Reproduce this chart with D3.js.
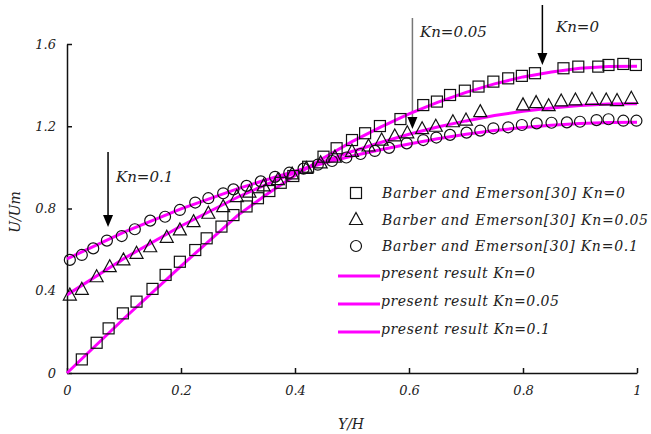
<!DOCTYPE html>
<html>
<head>
<meta charset="utf-8">
<script src="https://cdn.jsdelivr.net/npm/d3@7"></script>
<style>
  body { margin: 0; background: #fff; }
  text { font-family: "DejaVu Serif", serif; font-style: italic; fill: #222; }
</style>
</head>
<body>
<div id="chart"></div>
<script>
// Barber and Emerson[30] data as [Y/H, U/Um]
var barber_kn0 = [[0.026,0.066],[0.052,0.147],[0.073,0.217],[0.098,0.29],[0.122,0.347],[0.15,0.409],
    [0.173,0.477],[0.198,0.541],[0.225,0.598],[0.245,0.655],[0.271,0.712],[0.292,0.768],[0.315,0.81],
    [0.335,0.85],[0.355,0.885],[0.375,0.925],[0.397,0.958],[0.423,1.003],[0.45,1.052],[0.473,1.093],
    [0.5,1.133],[0.523,1.166],[0.549,1.201],[0.585,1.235],[0.625,1.303],[0.649,1.32],[0.672,1.352],
    [0.698,1.373],[0.722,1.393],[0.748,1.417],[0.774,1.433],[0.798,1.445],[0.821,1.458],[0.871,1.482],
    [0.897,1.49],[0.932,1.49],[0.95,1.498],[0.976,1.503],[0.998,1.498]];
var barber_kn005 = [[0.005,0.379],[0.026,0.407],[0.052,0.468],[0.075,0.517],[0.099,0.55],[0.122,0.582],
    [0.146,0.614],[0.175,0.66],[0.198,0.696],[0.222,0.736],[0.248,0.777],[0.274,0.809],[0.298,0.858],
    [0.32,0.88],[0.345,0.91],[0.37,0.94],[0.395,0.968],[0.42,0.995],[0.445,1.022],[0.47,1.05],
    [0.5,1.078],[0.529,1.104],[0.552,1.133],[0.575,1.153],[0.597,1.168],[0.623,1.188],[0.647,1.2],
    [0.677,1.222],[0.7,1.23],[0.725,1.271],[0.8,1.304],[0.823,1.315],[0.845,1.3],[0.867,1.323],
    [0.892,1.328],[0.921,1.331],[0.946,1.328],[0.965,1.325],[0.99,1.336]];
var barber_kn01 = [[0.005,0.55],[0.026,0.574],[0.046,0.606],[0.07,0.644],[0.096,0.666],[0.119,0.699],
    [0.146,0.741],[0.172,0.76],[0.198,0.793],[0.225,0.829],[0.248,0.85],[0.274,0.874],[0.292,0.893],
    [0.315,0.91],[0.34,0.932],[0.365,0.954],[0.39,0.974],[0.415,0.994],[0.44,1.013],[0.465,1.031],
    [0.49,1.048],[0.515,1.065],[0.54,1.08],[0.565,1.095],[0.596,1.117],[0.625,1.133],[0.648,1.145],
    [0.672,1.158],[0.701,1.169],[0.725,1.179],[0.748,1.19],[0.774,1.195],[0.798,1.206],[0.824,1.214],
    [0.85,1.217],[0.877,1.219],[0.9,1.222],[0.929,1.23],[0.95,1.234],[0.976,1.227],[0.999,1.227]];

// present result curves
var present_x = [0, 0.1, 0.2, 0.3, 0.35, 0.4, 0.45, 0.5, 0.55, 0.6, 0.65, 0.7, 0.75, 0.8, 0.85, 0.9, 0.95, 1];
var present_kn0 = [0, 0.265, 0.52, 0.768, 0.868, 0.96, 1.046, 1.125, 1.196, 1.26, 1.316, 1.365, 1.406, 1.44, 1.464, 1.482, 1.49, 1.492];
var present_kn005 = [0.38, 0.557, 0.715, 0.856, 0.917, 0.975, 1.028, 1.077, 1.121, 1.161, 1.196, 1.226, 1.252, 1.273, 1.289, 1.301, 1.308, 1.31];
var present_kn01 = [0.555, 0.685, 0.798, 0.897, 0.94, 0.982, 1.02, 1.055, 1.086, 1.114, 1.139, 1.161, 1.179, 1.194, 1.205, 1.213, 1.218, 1.22];

var x_ticks = [0, 0.2, 0.4, 0.6, 0.8, 1];
var y_ticks = [0, 0.4, 0.8, 1.2, 1.6];

// arrows pointing at the curves
var arrows = [
    {label: "Kn=0.1", at: 0.072, top: 152, tip: 227, colour: "#000", lx: 116, ly: 182},
    {label: "Kn=0.05", at: 0.606, top: 18, tip: 129, colour: "#777", lx: 420, ly: 37},
    {label: "Kn=0", at: 0.834, top: 5, tip: 65, colour: "#000", lx: 556, ly: 32}];

var svg = d3.select("#chart")
    .append("svg")
    .attr("width", 651)
    .attr("height", 434);

var x = d3.scaleLinear().domain([0, 1]).range([67, 637]);
var y = d3.scaleLinear().domain([0, 1.6]).range([373, 44]);

// axes
var xAxis = svg.append("g")
    .attr("transform", "translate(0,373)")
    .call(d3.axisBottom(x).tickValues(x_ticks).tickFormat(String)
        .tickSizeInner(-5).tickSizeOuter(0).tickPadding(13));
var yAxis = svg.append("g")
    .attr("transform", "translate(67,0)")
    .call(d3.axisLeft(y).tickValues(y_ticks).tickFormat(String)
        .tickSizeInner(-5).tickSizeOuter(0).tickPadding(11));

[xAxis, yAxis].forEach(function (a) {
    a.selectAll("path, line").attr("stroke", "#111").attr("stroke-width", 1.5);
    a.selectAll("text")
        .attr("fill", "#222")
        .style("font-family", "'DejaVu Serif', serif")
        .style("font-style", "italic")
        .style("font-size", "13px");
});

svg.append("text")
    .attr("text-anchor", "middle")
    .attr("x", 351)
    .attr("y", 429)
    .style("font-size", "14px")
    .text("Y/H");

svg.append("text")
    .attr("text-anchor", "middle")
    .attr("transform", "translate(20,212) rotate(-90)")
    .style("font-size", "14px")
    .text("U/Um");

// arrows
arrows.forEach(function (a) {
    var ax = x(a.at);
    svg.append("line")
        .attr("x1", ax).attr("x2", ax)
        .attr("y1", a.top).attr("y2", a.tip - 10)
        .attr("stroke", a.colour)
        .attr("stroke-width", 1.5);
    svg.append("path")
        .attr("d", "M" + (ax - 5) + "," + (a.tip - 12) + "L" + (ax + 5) + "," + (a.tip - 12) + "L" + ax + "," + a.tip + "Z")
        .attr("fill", "#000");
    svg.append("text")
        .attr("x", a.lx)
        .attr("y", a.ly)
        .style("font-size", "15px")
        .text(a.label);
});

// marker shapes
function drawMarker(g, kind, cx, cy) {
    if (kind == "square") {
        g.append("rect").attr("x", cx - 5.5).attr("y", cy - 5.5).attr("width", 11).attr("height", 11);
    } else if (kind == "triangle") {
        g.append("path").attr("d", "M" + cx + "," + (cy - 7) + "L" + (cx + 6.5) + "," + (cy + 5) + "L" + (cx - 6.5) + "," + (cy + 5) + "Z");
    } else {
        g.append("circle").attr("cx", cx).attr("cy", cy).attr("r", 5.5);
    }
}

var line = d3.line()
    .x(function (d) { return x(d[0]); })
    .y(function (d) { return y(d[1]); });

var curves = [present_kn0, present_kn005, present_kn01];
curves.forEach(function (c) {
    svg.append("path")
        .datum(present_x.map(function (v, i) { return [v, c[i]]; }))
        .attr("d", line)
        .attr("fill", "none")
        .attr("stroke", "#ff00ff")
        .attr("stroke-width", 3);
});

var series = [
    {data: barber_kn0, kind: "square"},
    {data: barber_kn005, kind: "triangle"},
    {data: barber_kn01, kind: "circle"}];

var marks = svg.append("g")
    .attr("fill", "none")
    .attr("stroke", "#111")
    .attr("stroke-width", 1.2);
series.forEach(function (s) {
    s.data.forEach(function (d) { drawMarker(marks, s.kind, x(d[0]), y(d[1])); });
});

// legend (the original uses a wide italic face, so stretch spacing to match)
var leg_names = ["Barber and Emerson[30] Kn=0", "Barber and Emerson[30] Kn=0.05", "Barber and Emerson[30] Kn=0.1"];
var leg_widths = [243, 266, 256];
var leg_rows = [193, 219.5, 246];
var legMarks = svg.append("g").attr("fill", "none").attr("stroke", "#111").attr("stroke-width", 1.2);
series.forEach(function (s, i) {
    drawMarker(legMarks, s.kind, 356, leg_rows[i]);
    svg.append("text")
        .attr("x", 382)
        .attr("y", leg_rows[i] + 5)
        .attr("textLength", leg_widths[i])
        .attr("lengthAdjust", "spacing")
        .style("font-size", "14px")
        .text(leg_names[i]);
});

var line_names = ["present result Kn=0", "present result Kn=0.05", "present result Kn=0.1"];
var line_widths = [154, 178, 169];
var line_rows = [276, 304, 332];
line_names.forEach(function (n, i) {
    svg.append("line")
        .attr("x1", 338).attr("x2", 380)
        .attr("y1", line_rows[i]).attr("y2", line_rows[i])
        .attr("stroke", "#ff00ff")
        .attr("stroke-width", 3);
    svg.append("text")
        .attr("x", 381)
        .attr("y", line_rows[i] + 2)
        .attr("textLength", line_widths[i])
        .attr("lengthAdjust", "spacing")
        .style("font-size", "14px")
        .text(n);
});
</script>
</body>
</html>
